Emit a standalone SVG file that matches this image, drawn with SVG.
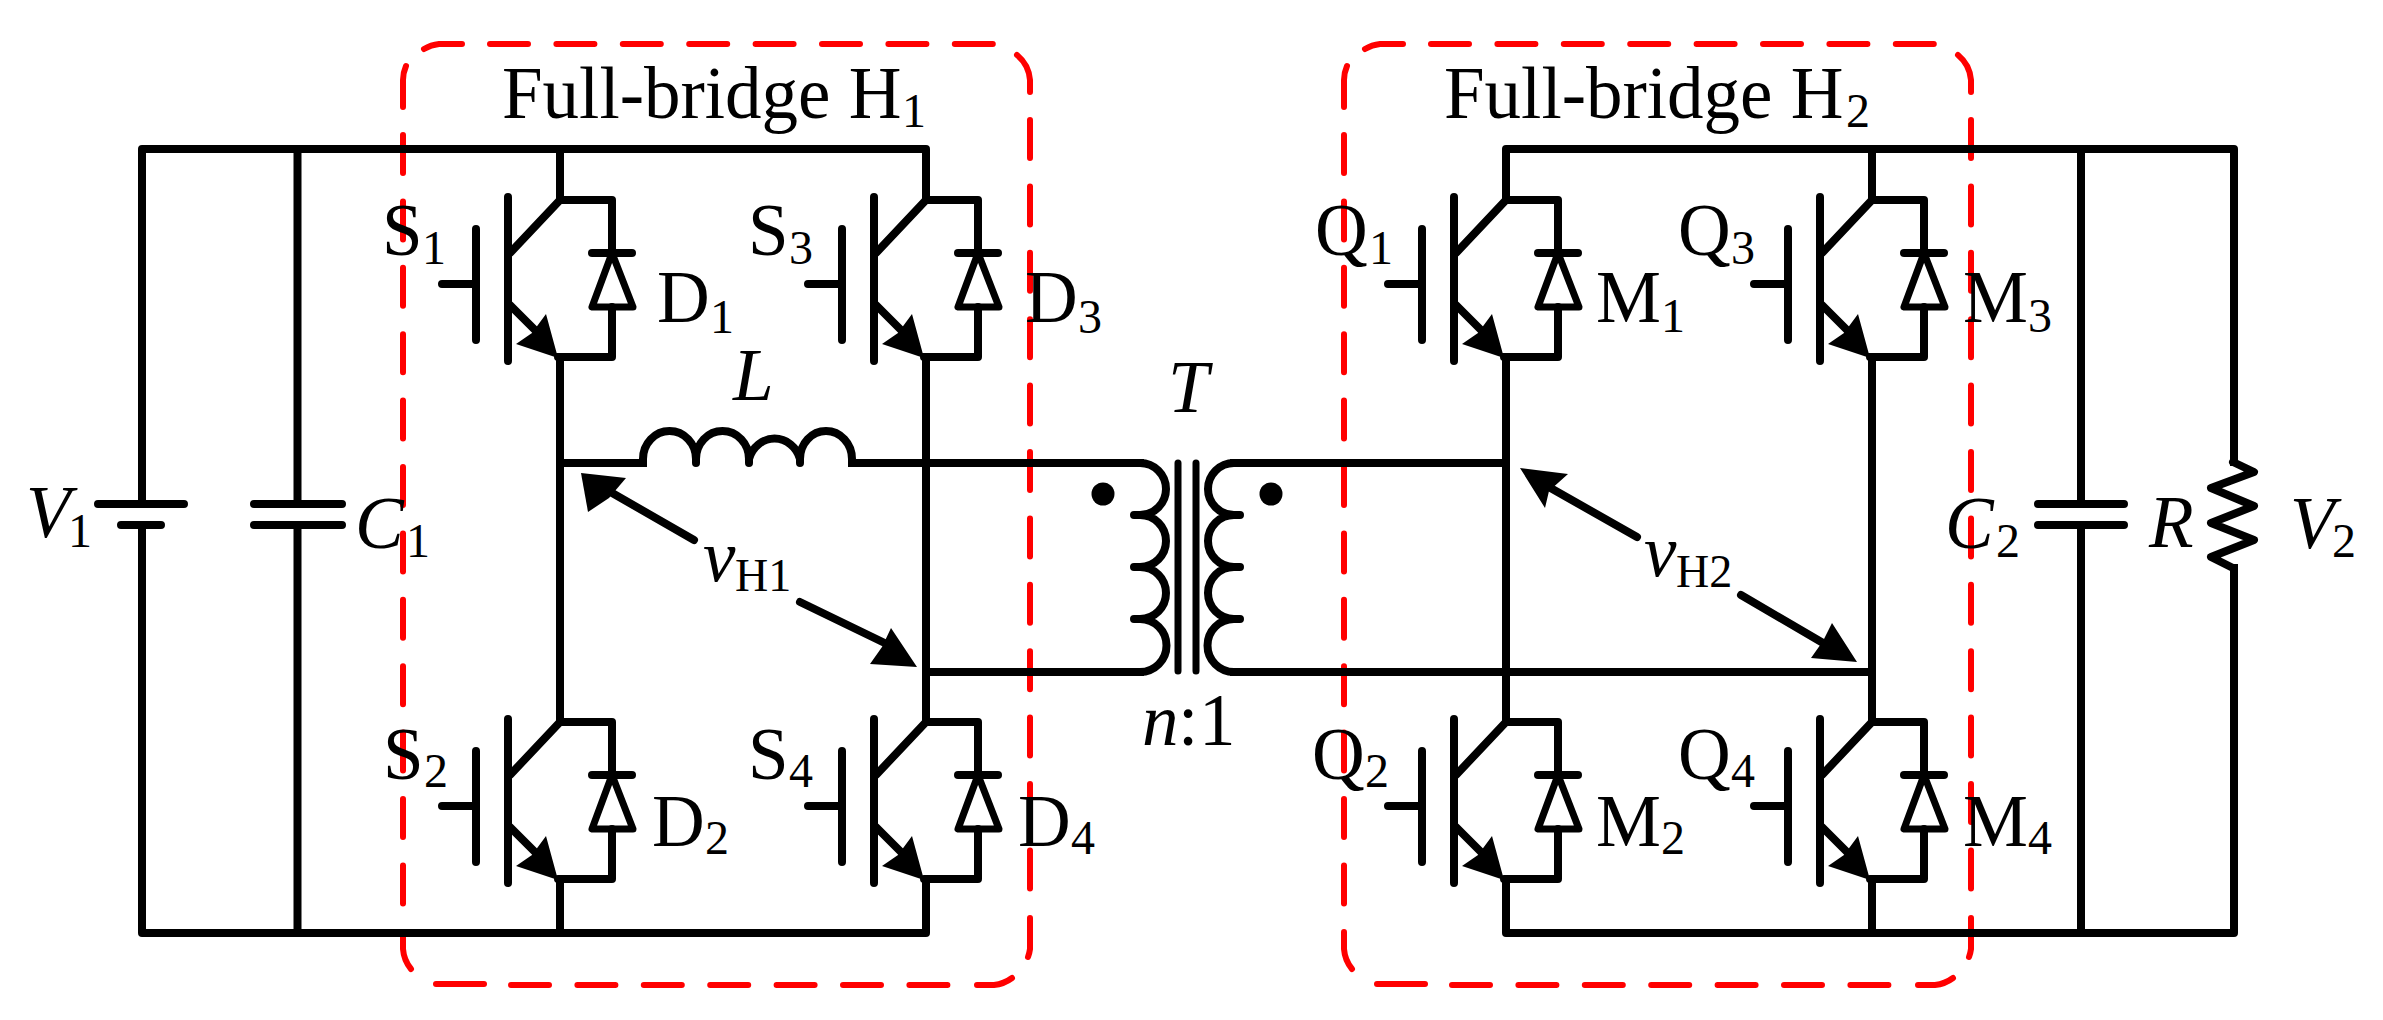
<svg xmlns="http://www.w3.org/2000/svg" xmlns:xlink="http://www.w3.org/1999/xlink" width="2383" height="1020" viewBox="0 0 2383 1020">
<style>
.w{fill:none;stroke:#000;stroke-width:8;stroke-linecap:square;stroke-linejoin:round}
.r{fill:none;stroke:#000;stroke-width:8;stroke-linecap:round;stroke-linejoin:round}
.f{fill:none;stroke:#f00;stroke-width:6;stroke-linecap:round}
.d{stroke-dasharray:38 28.4}
.a{fill:#000;stroke:none}
text{font-family:"Liberation Serif","Times New Roman",serif;font-size:73px;fill:#000}
.s{font-size:48px}
.i{font-style:italic}
</style>
<defs>
<g id="igbt">
<path class="r" d="M-118 84H-84M-84 29V140M-52 -3V161M-50 53L0 0H52V53M52 107V157H-2M-50 105L-20 135"/>
<path class="r" d="M32 53H72"/>
<path class="r" style="stroke-width:7" d="M52 53L32 107H73Z"/>
<polygon class="a" points="-2,158 -14,114 -28,133 -44,144"/>
</g>
<g id="frame">
<path class="f" d="M403 107V80A36 36 0 0 1 406 66"/>
<path class="f" d="M424 49A36 36 0 0 1 439 44H462"/>
<path class="f d" d="M490 44H994"/>
<path class="f" d="M1017 55A36 36 0 0 1 1030 80V92"/>
<path class="f d" d="M1030 120V890"/>
<path class="f" d="M1030 918V949A36 36 0 0 1 1028 957"/>
<path class="f" d="M1012 978A36 36 0 0 1 994 985H977"/>
<path class="f d" d="M511 985H950"/>
<path class="f" d="M436 984H484"/>
<path class="f" d="M403 932V949A36 36 0 0 0 411 969"/>
<path class="f d" d="M403 135V905"/>
</g>
</defs>
<g id="frame-h1"><use href="#frame"/></g>
<g id="frame-h2"><use href="#frame" x="941"/></g>
<g id="connectors">
<path class="w" d="M142 504V149H926V200M297.500 504V149M560 149V200M142 525V933H926V880M297.500 525V933M560 933V880"/>
<path class="w" d="M560 357V722M926 357V722"/>
<path class="w" d="M560 463H643M852 463H1140M926 672H1140"/>
<path class="w" d="M1234 463H1506M1234 672H1872"/>
<path class="w" d="M1506 357V722M1872 357V722"/>
<path class="w" d="M1506 200V149H2234V462M2081 149V504M1506 880V933H2234V568M1872 149V200M1872 933V880M2081 525V933"/>
<path class="r" d="M694 540L600 486M800 602L895 648M1637 537L1540 482M1741 595L1835 650"/>
<polygon class="a" points="581,473 626,478 609,498 588,512"/>
<polygon class="a" points="917,667 891,628 882,647 870,664"/>
<polygon class="a" points="1520,468 1568,474 1549,491 1545,508"/>
<polygon class="a" points="1857,662 1832,623 1823,641 1811,658"/>
</g>
<g id="V1"><path class="r" d="M98 504H184M121 525H161"/><text class="i" x="26" y="537">V</text><text class="s" x="68" y="547">1</text></g>
<g id="C1"><path class="r" d="M254 504H342M254 525H342"/><text class="i" x="355" y="548">C</text><text class="s" x="406" y="557">1</text></g>
<g id="S1"><use href="#igbt" x="560" y="200"/><text x="382" y="255">S</text><text class="s" x="422" y="264">1</text></g>
<g id="D1"><text x="657" y="322">D</text><text class="s" x="710" y="333">1</text></g>
<g id="S3"><use href="#igbt" x="926" y="200"/><text x="748" y="255">S</text><text class="s" x="789" y="264">3</text></g>
<g id="D3"><text x="1025" y="322">D</text><text class="s" x="1078" y="333">3</text></g>
<g id="S2"><use href="#igbt" x="560" y="722"/><text x="383" y="779">S</text><text class="s" x="424" y="787">2</text></g>
<g id="D2"><text x="652" y="846">D</text><text class="s" x="705" y="854">2</text></g>
<g id="S4"><use href="#igbt" x="926" y="722"/><text x="748" y="779">S</text><text class="s" x="789" y="787">4</text></g>
<g id="D4"><text x="1018" y="846">D</text><text class="s" x="1071" y="854">4</text></g>
<g id="L"><path class="r" d="M643 463V459A26.500 28 0 0 1 696 459V463M696 459A26.500 28 0 0 1 749 459V463M749 459A26.500 28 0 0 1 800 459V463M800 459A26 28 0 0 1 852 459V463"/><text class="i" x="733" y="400">L</text></g>
<g id="T">
<path class="r" d="M1140 463A26 26 0 0 1 1140 515H1134M1140 515A26 26 0 0 1 1140 567H1134M1140 567A26 26 0 0 1 1140 619H1134M1140 619A26.500 26.500 0 0 1 1140 672"/>
<path class="r" d="M1234 463A26 26 0 0 0 1234 515H1240M1234 515A26 26 0 0 0 1234 567H1240M1234 567A26 26 0 0 0 1234 619H1240M1234 619A26.500 26.500 0 0 0 1234 672"/>
<path class="r" style="stroke-width:7" d="M1178 463V671M1196 463V671"/>
<circle cx="1103" cy="494" r="11.500"/><circle cx="1271" cy="494" r="11.500"/>
<text class="i" x="1168" y="412">T</text>
<text class="i" x="1142" y="745">n</text><text x="1178" y="745">:</text><text x="1199" y="745">1</text>
</g>
<g id="Q1"><use href="#igbt" x="1506" y="200"/><text x="1315" y="255">Q</text><text class="s" x="1369" y="264">1</text></g>
<g id="M1"><text x="1596" y="322">M</text><text class="s" x="1661" y="332">1</text></g>
<g id="Q3"><use href="#igbt" x="1872" y="200"/><text x="1678" y="255">Q</text><text class="s" x="1731" y="264">3</text></g>
<g id="M3"><text x="1963" y="322">M</text><text class="s" x="2028" y="332">3</text></g>
<g id="Q2"><use href="#igbt" x="1506" y="722"/><text x="1312" y="779">Q</text><text class="s" x="1365" y="787">2</text></g>
<g id="M2"><text x="1596" y="846">M</text><text class="s" x="1661" y="854">2</text></g>
<g id="Q4"><use href="#igbt" x="1872" y="722"/><text x="1678" y="779">Q</text><text class="s" x="1731" y="787">4</text></g>
<g id="M4"><text x="1963" y="846">M</text><text class="s" x="2028" y="854">4</text></g>
<g id="C2"><path class="r" d="M2038 504H2124M2038 525H2124"/><text class="i" x="1945" y="548">C</text><text class="s" x="1996" y="557">2</text></g>
<g id="R"><path class="r" d="M2233 462L2254 472L2211 488L2254 506L2211 523L2254 540L2211 557L2233 568"/><text class="i" x="2149" y="547">R</text></g>
<g id="V2"><text class="i" x="2290" y="548">V</text><text class="s" x="2332" y="557">2</text></g>
<g id="labels">
<text x="502" y="118">Full-bridge H</text><text class="s" x="902" y="127">1</text>
<text x="1444" y="118">Full-bridge H</text><text class="s" x="1846" y="127">2</text>
<text class="i" x="703" y="581">v</text><text class="s" x="735" y="591" style="font-size:46px">H1</text>
<text class="i" x="1644" y="576">v</text><text class="s" x="1676" y="587" style="font-size:46px">H2</text>
</g>
</svg>
